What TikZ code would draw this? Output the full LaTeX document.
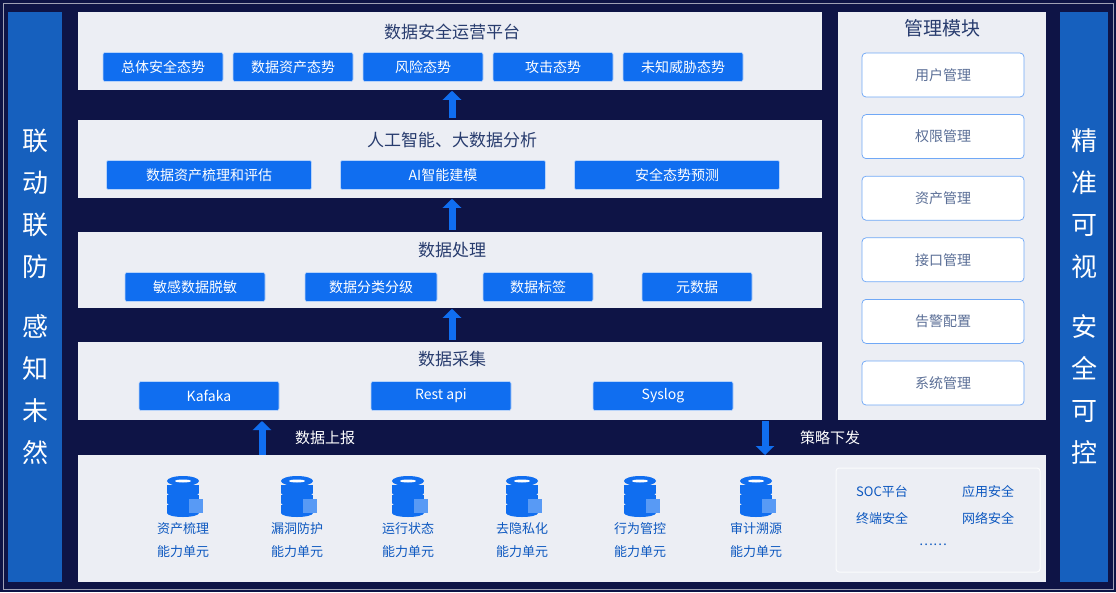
\documentclass[tikz,border=0pt]{standalone}
\usepackage{fontspec}
\setmainfont{Noto Sans CJK SC}
\definecolor{navy}{RGB}{14,20,70}
\definecolor{sideblue}{RGB}{22,96,190}
\definecolor{btnblue}{RGB}{16,110,240}
\definecolor{panel}{RGB}{236,238,244}
\definecolor{ttl}{RGB}{40,60,110}
\definecolor{mgtxt}{RGB}{90,110,150}
\tikzset{every picture/.style={line width=0.75pt}}
\tikzset{
  layerbox/.style={fill=panel,draw=none,anchor=north west,inner sep=0},
  btn/.style={fill=btnblue,draw=white!70!btnblue,line width=0.6pt,rounded corners=2pt,text=white,minimum height=29,font=\fontsize{14}{14}\selectfont},
  mgbtn/.style={fill=white,draw=btnblue!60,rounded corners=4pt,text=mgtxt,minimum width=162,minimum height=44,font=\fontsize{14}{14}\selectfont},
  ttltext/.style={text=ttl,font=\fontsize{17}{17}\selectfont},
  sidetext/.style={text=white,font=\fontsize{26}{42}\selectfont,align=center},
  unittext/.style={text=btnblue!80!black,font=\fontsize{13}{13}\selectfont,align=center},
  uparrow/.style={btnblue,line width=7pt,-{Triangle[width=18pt,length=9pt]}}
}
\usetikzlibrary{arrows.meta}
\newcommand{\dbicon}[2]{%
  \begin{scope}[shift={(#1,#2)}]
    \foreach \k in {0,1,2}{
      \fill[btnblue] (-16,{-12+\k*10}) rectangle (16,{-4+\k*10});
      \fill[btnblue] (0,{-4+\k*10}) ellipse (16 and 4);
    }
    \fill[btnblue] (0,-16) ellipse (16 and 5);
    \fill[white] (0,-16) ellipse (8 and 1.5);
    \fill[btnblue!70] (6,2) rectangle (20,16);
  \end{scope}}
\begin{document}
\begin{tikzpicture}[x=1pt,y=-1pt]
  \useasboundingbox (0,0) rectangle (1116,592);
  \fill[navy] (0,0) rectangle (1116,592);
  \draw[white!60!navy,line width=1pt] (3,3) rectangle (1113,589);
  % side bars
  \fill[sideblue] (8,12) rectangle (62,582);
  \fill[sideblue] (1060,12) rectangle (1108,582);
  \node[sidetext] (left) at (35,297) {联\\动\\联\\防\\[18pt]感\\知\\未\\然};
  \node[sidetext] (right) at (1084,297) {精\\准\\可\\视\\[18pt]安\\全\\可\\控};
  % layers
  \node[layerbox,minimum width=744,minimum height=78] (L1) at (78,12) {};
  \node[layerbox,minimum width=744,minimum height=78] (L2) at (78,120) {};
  \node[layerbox,minimum width=744,minimum height=76] (L3) at (78,232) {};
  \node[layerbox,minimum width=744,minimum height=78] (L4) at (78,342) {};
  \node[layerbox,minimum width=968,minimum height=127] (L5) at (78,455) {};
  \node[layerbox,minimum width=208,minimum height=408] (M) at (838,12) {};
  \node[ttltext] (t1) at (452,32) {数据安全运营平台};
  \node[ttltext] (t2) at (452,140) {人工智能、大数据分析};
  \node[ttltext] (t3) at (452,250) {数据处理};
  \node[ttltext] (t4) at (452,359) {数据采集};
  \node[ttltext,font=\fontsize{19}{19}\selectfont] (tm) at (942,28) {管理模块};
  % buttons
  \node[btn,minimum width=120] (b11) at (163,67) {总体安全态势};
  \node[btn,minimum width=120] (b12) at (293,67) {数据资产态势};
  \node[btn,minimum width=120] (b13) at (423,67) {风险态势};
  \node[btn,minimum width=120] (b14) at (553,67) {攻击态势};
  \node[btn,minimum width=120] (b15) at (683,67) {未知威胁态势};
  \node[btn,minimum width=205] (b21) at (209,175) {数据资产梳理和评估};
  \node[btn,minimum width=205] (b22) at (443,175) {AI智能建模};
  \node[btn,minimum width=205] (b23) at (677,175) {安全态势预测};
  \node[btn,minimum width=140] (b31) at (195,287) {敏感数据脱敏};
  \node[btn,minimum width=132] (b32) at (371,287) {数据分类分级};
  \node[btn,minimum width=110] (b33) at (538,287) {数据标签};
  \node[btn,minimum width=110] (b34) at (697,287) {元数据};
  \node[btn,minimum width=140] (b41) at (209,396) {Kafaka};
  \node[btn,minimum width=140] (b42) at (441,396) {Rest api};
  \node[btn,minimum width=140] (b43) at (663,396) {Syslog};
  % management
  \foreach \name [count=\i] in {用户管理,权限管理,资产管理,接口管理,告警配置,系统管理}
    \node[mgbtn] (m\i) at (943,{75+(\i-1)*61.6}) {\name};
  % arrows between layers
  \draw[uparrow] (L2.north -| t1) ++(0,-2) -- (L1.south -| t1);
  \draw[uparrow] (L3.north -| t1) ++(0,-2) -- (L2.south -| t1);
  \draw[uparrow] (L4.north -| t1) ++(0,-2) -- (L3.south -| t1);
  \coordinate (upS) at (262,455);
  \coordinate (upE) at (262,421);
  \coordinate (dnS) at (765,421);
  \coordinate (dnE) at (765,455);
  \draw[uparrow] (upS) -- (upE);
  \draw[uparrow] (dnS) -- (dnE);
  \node[text=white,font=\fontsize{15}{15}\selectfont] (up) at (325,438) {数据上报};
  \node[text=white,font=\fontsize{15}{15}\selectfont] (dn) at (830,438) {策略下发};
  % capability units
  \foreach \x/\name in {183/资产梳理,297/漏洞防护,408/运行状态,522/去隐私化,640/行为管控,756/审计溯源}{
    \dbicon{\x}{497}
    \node[unittext] at (\x,540) {\name\\[10pt]能力单元};
  }
  % others
  \draw[white!80!panel,line width=1pt,rounded corners=3pt] (836,468) rectangle (1040,572);
  \node[unittext] (o1) at (882,492) {SOC平台};
  \node[unittext] (o2) at (988,492) {应用安全};
  \node[unittext] (o3) at (882,518) {终端安全};
  \node[unittext] (o4) at (988,518) {网络安全};
  \node[unittext] (o5) at (933,545) {……};
\end{tikzpicture}
\end{document}
